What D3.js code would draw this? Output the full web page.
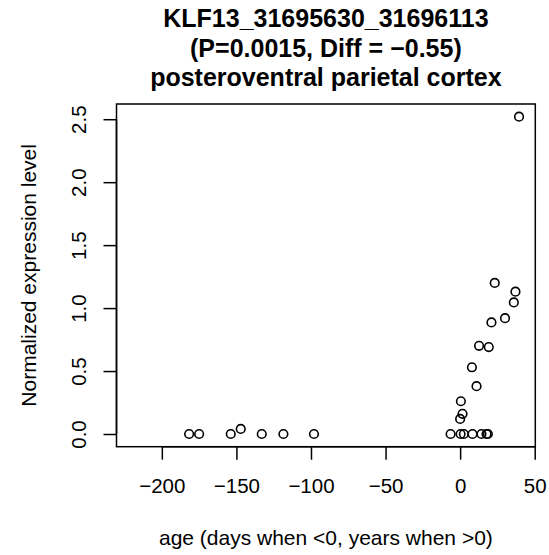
<!DOCTYPE html>
<html>
<head>
<meta charset="utf-8">
<script src="https://cdn.jsdelivr.net/npm/d3@7"></script>
<style>
  html, body { margin: 0; padding: 0; background: #fff; }
  text { font-family: "Liberation Sans", Arial, Helvetica, sans-serif; fill: #000; }
</style>
</head>
<body>
<svg id="chart" width="549" height="555"></svg>
<script>
const titleLines = ["KLF13_31695630_31696113", "(P=0.0015, Diff = \u22120.55)", "posteroventral parietal cortex"];
const xLabel = "age (days when <0, years when >0)";
const yLabel = "Normalized expression level";
const xTicks = [-200, -150, -100, -50, 0, 50];
const yTicks = [0, 0.5, 1.0, 1.5, 2.0, 2.5];

const ages = [
  -181.7, -175.0, -153.8, -147.1, -133.0, -118.5, -98.0,
  -6.4, 0.3, 2.5, 8.3, 14.3, 17.7, 18.6,
  0.0, 1.6, 0.5, 11.0, 7.9, 12.7, 19.2, 21.0, 30.1, 23.2, 36.0, 37.1, 39.5
];
const values = [
  0, 0, 0, 0.04, 0, 0, 0,
  0, 0, 0, 0, 0, 0, 0,
  0.12, 0.16, 0.26, 0.38, 0.53, 0.70, 0.69, 0.886, 0.92, 1.20, 1.045, 1.13, 2.52
];

const svg = d3.select("#chart");
const L = 116.5, R = 535.3, T = 104, B = 446.7;

// R-style 4% extension of xlim = c(-220, 40), ylim = range(values)
const xlim = [-220, 40], ylim = [0, d3.max(values)];
const xr = xlim[1] - xlim[0], yr = ylim[1] - ylim[0];
const x = d3.scaleLinear().domain([xlim[0] - 0.04 * xr, xlim[1] + 0.04 * xr]).range([L, R]);
const y = d3.scaleLinear().domain([ylim[0] - 0.04 * yr, ylim[1] + 0.04 * yr]).range([B, T]);

const fmt = d3.format("");
const yfmt = d3.format(".1f");

// Bottom axis
const gx = svg.append("g").attr("transform", `translate(0,${B})`)
  .call(d3.axisBottom(x).tickValues(xTicks).tickSize(13).tickSizeOuter(0).tickPadding(0).tickFormat(d => fmt(d)));
gx.select(".domain").attr("d", `M${x(xTicks[0])},0H${x(xTicks[xTicks.length-1])}`);
gx.selectAll("line, path").attr("stroke", "#000").attr("stroke-width", 1.5);
gx.selectAll("text").attr("font-size", 20.5).attr("y", 46).attr("dy", null)
  .style("font-family", "'Liberation Sans', Arial, sans-serif");

// Left axis
const gy = svg.append("g").attr("transform", `translate(${L},0)`)
  .call(d3.axisLeft(y).tickValues(yTicks).tickSize(13).tickSizeOuter(0).tickFormat(d => yfmt(d)));
gy.select(".domain").attr("d", `M0,${y(yTicks[0])}V${y(yTicks[yTicks.length-1])}`);
gy.selectAll("line, path").attr("stroke", "#000").attr("stroke-width", 1.5);
gy.selectAll(".tick text")
  .attr("font-size", 20.5)
  .attr("x", null).attr("dy", null)
  .attr("text-anchor", "middle")
  .attr("transform", "translate(-31,0) rotate(-90)")
  .attr("y", 0)
  .style("font-family", "'Liberation Sans', Arial, sans-serif");

// Box
svg.append("rect").attr("x", L).attr("y", T).attr("width", R - L).attr("height", B - T)
  .attr("fill", "none").attr("stroke", "#000").attr("stroke-width", 1.5);

// Points
svg.append("g").selectAll("circle").data(ages.map((a, i) => [a, values[i]])).join("circle")
  .attr("cx", d => x(d[0])).attr("cy", d => y(d[1])).attr("r", 4.3)
  .attr("fill", "none").attr("stroke", "#000").attr("stroke-width", 1.6);

// Title
const cx = (L + R) / 2;
svg.append("g").selectAll("text").data(titleLines).join("text")
  .attr("x", cx).attr("y", (d, i) => 27 + i * 29.5)
  .attr("text-anchor", "middle").attr("font-size", 25).attr("font-weight", "bold")
  .text(d => d);

// Axis labels
svg.append("text").attr("x", cx).attr("y", 544.5).attr("text-anchor", "middle")
  .attr("font-size", 21).text(xLabel);
svg.append("text").attr("transform", `translate(36,${(T + B) / 2}) rotate(-90)`)
  .attr("text-anchor", "middle").attr("font-size", 21).text(yLabel);
</script>
</body>
</html>
